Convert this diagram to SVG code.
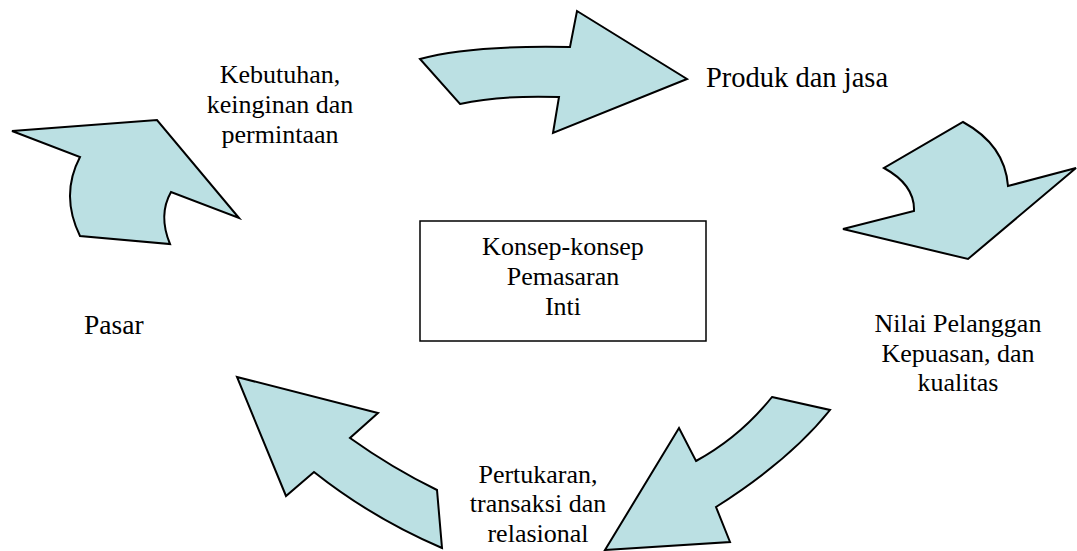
<svg xmlns="http://www.w3.org/2000/svg" width="1077" height="551" viewBox="0 0 1077 551">
<style>
.arr{fill:#BBE0E3;stroke:#000;stroke-width:2;stroke-linejoin:miter}
.t{font-family:"Liberation Serif","Times New Roman",serif;font-size:26px;fill:#000}
.c{text-anchor:middle}
.box{fill:#fff;stroke:#000;stroke-width:1.5}
</style>
<rect width="1077" height="551" fill="#fff"/>
<g id="connectors">
<path id="arrow-top" class="arr" d="M420,59 Q470,45 570,47 L577,11 L687,79 L553,133 L559,97 Q500,95 460,104 Z"/>
<path id="arrow-right" class="arr" d="M963,122 Q1005,145 1008,186 L1076,168 L968,259 L843,229 L914,211 Q915,185 884,168 Z"/>
<path id="arrow-bottom-right" class="arr" d="M772,397 L830,410 Q790,460 716,507 L730,542 L605,550 L679,428 L696,461 Q740,437 772,397 Z"/>
<path id="arrow-bottom-left" class="arr" d="M237,377 L378,413 L350,438 Q392,468 437,490 L442,548 Q372,518 314,472 L286,496 Z"/>
<path id="arrow-top-left" class="arr" d="M12,131 L157,120 L239,218 L171,192 Q158,215 170,244 L80,236 Q60,195 80,157 Z"/>
</g>
<g id="node-kebutuhan">
<text class="t c" x="280" y="83">Kebutuhan,</text>
<text class="t c" x="280" y="113">keinginan dan</text>
<text class="t c" x="280" y="143">permintaan</text>
</g>
<g id="node-produk">
<text class="t" x="706" y="87" style="font-size:28.5px">Produk dan jasa</text>
</g>
<g id="node-nilai">
<text class="t c" x="958" y="332">Nilai Pelanggan</text>
<text class="t c" x="958" y="362">Kepuasan, dan</text>
<text class="t c" x="958" y="391">kualitas</text>
</g>
<g id="node-pertukaran">
<text class="t c" x="538" y="483">Pertukaran,</text>
<text class="t c" x="538" y="512">transaksi dan</text>
<text class="t c" x="538" y="542">relasional</text>
</g>
<g id="node-pasar">
<text class="t" x="84" y="334" style="font-size:27.5px">Pasar</text>
</g>
<g id="node-konsep">
<rect class="box" x="420" y="221" width="286" height="120"/>
<text class="t c" x="563" y="255">Konsep-konsep</text>
<text class="t c" x="563" y="285">Pemasaran</text>
<text class="t c" x="563" y="315">Inti</text>
</g>
</svg>
